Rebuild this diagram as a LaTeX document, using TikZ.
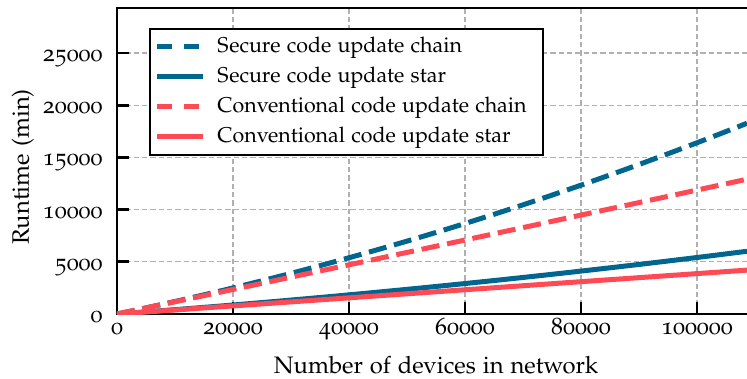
\documentclass[tikz,border=0pt]{standalone}
\usepackage[T1]{fontenc}
\usepackage[osf]{mathpazo}
\usepackage{xcolor}
\definecolor{Petrol Blue}{HTML}{00668F}
\definecolor{Coral Red}{HTML}{FF4A55}
\definecolor{Light Grey}{HTML}{B0B0B0}
\colorlet{cSecure}{Petrol Blue}
\colorlet{cConv}{Coral Red}
\colorlet{cGrid}{Light Grey}
\usepackage{tikz}
\usetikzlibrary{positioning, fit}
\tikzset{
	line width = .5pt,
	font = \fontsize{10}{12}\selectfont,
	axisline/.style={
		line width=1.15pt,
		line cap=rect
	},
	tickmark/.style={
		line width=1.15pt
	},
	gridline/.style={
		draw=cGrid,
		line width=.45pt,
		dash pattern=on 2.2pt off 1.3pt
	},
	curve/.style={
		line width=2.1pt
	},
	chain/.style={
		curve,
		dash pattern=on 7.6pt off 3.3pt
	},
	star/.style={
		curve
	},
	legendframe/.style={
		draw,
		line width=.85pt,
		inner sep=0pt
	},
	legendchain/.style={
		curve,
		dash pattern=on 6.2pt off 5.2pt
	},
	legendtext/.style={
		anchor=base west,
		inner sep=0pt,
		font=\fontsize{9}{11}\selectfont
	},
	xticklabel/.style={anchor=base, inner sep=0pt},
	yticklabel/.style={anchor=base east, inner sep=0pt}
}

\begin{document}
\begin{tikzpicture}[x=.42pt, y=.42pt]
\useasboundingbox (-117,-64) rectangle (630,314);

% ---
% Grid and ticks
% ---
\foreach \i in {1,...,5} {
	\draw[gridline] (\i*116,0) -- (\i*116,306);
	\draw[tickmark] (\i*116,0) -- (\i*116,12);
}
\foreach \j in {1,...,5} {
	\draw[gridline] (0,\j*52.2) -- (630,\j*52.2);
	\draw[tickmark] (0,\j*52.2) -- (12,\j*52.2);
}

% ---
% Axes
% ---
\coordinate (O) at (0,0);
\coordinate (xend) at (630,0);
\coordinate (yend) at (0,306);
\coordinate (tr) at (630,306);
\draw[axisline] (xend) -- (O) -- (yend) -- (tr);

% ---
% Tick labels
% ---
\foreach \i/\v in {0/0, 1/20000, 2/40000, 3/60000, 4/80000, 5/100000} {
	\node[xticklabel] (xl\i) at (\i*116,-20) {\v};
}
\foreach \j/\v in {0/0, 1/5000, 2/10000, 3/15000, 4/20000, 5/25000} {
	\node[yticklabel] (yl\j) at (-14,\j*52.2-8.5) {\v};
}
\node[anchor=base, inner sep=0pt] (xlabel) at (319,-59) {Number of devices in network};
\node[anchor=base, inner sep=0pt, rotate=90] (ylabel) at (-88,147) {Runtime (min)};

% ---
% Curves
% ---
\begin{scope}[xscale=5.8, yscale=10.44]
	\clip (0,0) rectangle (108.62,29.3);
	\draw[chain, cSecure] plot[domain=0:108.62, samples=60] (\x, {0.1152*\x + 0.000482*\x*\x});
	\draw[star, cSecure] plot[domain=0:108.62, samples=60] (\x, {0.0404*\x + 0.000133*\x*\x});
	\draw[chain, cConv] plot[domain=0:108.62, samples=60] (\x, {0.1172*\x + 0.000015*\x*\x});
	\draw[star, cConv] plot[domain=0:108.62, samples=60] (\x, {0.0387*\x});
\end{scope}

% ---
% Legend
% ---
\node[legendframe, fill=white, fit={(33,159) (426,285)}] (legend) {};
\coordinate (h1a) at (40,268);  \coordinate (h1b) at (86,268);
\coordinate (h2a) at (40,238);  \coordinate (h2b) at (86,238);
\coordinate (h3a) at (40,208);  \coordinate (h3b) at (86,208);
\coordinate (h4a) at (40,178);  \coordinate (h4b) at (86,178);
\draw[legendchain, cSecure] (h1a) -- (h1b);
\draw[curve, cSecure] (h2a) -- (h2b);
\draw[legendchain, cConv] (h3a) -- (h3b);
\draw[curve, cConv] (h4a) -- (h4b);
\node[legendtext] (t1) at (100,262) {Secure code update chain};
\node[legendtext] (t2) at (100,232) {Secure code update star};
\node[legendtext] (t3) at (100,202) {Conventional code update chain};
\node[legendtext] (t4) at (100,172) {Conventional code update star};

\end{tikzpicture}
\end{document}
